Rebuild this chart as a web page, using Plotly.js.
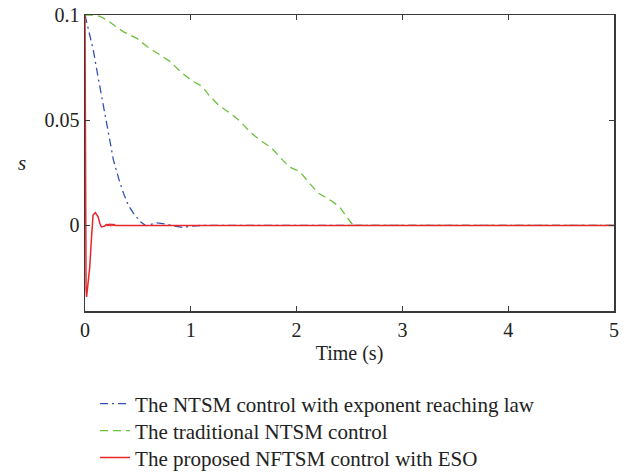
<!DOCTYPE html>
<html>
<head>
<meta charset="utf-8">
<script src="https://cdn.plot.ly/plotly-3.0.1.min.js"></script>
<style>html,body{margin:0;padding:0;background:#fff;}#chart{width:632px;height:472px;}</style>
</head>
<body>
<div id="chart"></div>
<script>
// Series names
const seriesNames = [
  "The NTSM control with exponent reaching law",
  "The traditional NTSM control",
  "The proposed NFTSM control with ESO"
];

// NTSM control with exponent reaching law (blue dash-dot)
const ntsmExpT = [0, 0.04, 0.079, 0.12, 0.174, 0.22, 0.269, 0.32, 0.364, 0.41, 0.459, 0.522, 0.57, 0.6, 0.63, 0.68, 0.73, 0.77, 0.85, 0.93, 1.0, 1.1, 5];
const ntsmExpS = [0.1, 0.0915, 0.0832, 0.0715, 0.0563, 0.043, 0.031, 0.022, 0.0152, 0.0095, 0.0057, 0.0018, 0.0, -0.0002, 0.0006, 0.0012, 0.0008, 0.0006, -0.0004, -0.001, -0.0004, 0, 0];

// Traditional NTSM control (green dashed)
const ntsmTradT = [0, 0.08, 0.142, 0.206, 0.364, 0.49, 0.586, 0.712, 0.807, 0.902, 0.997, 1.108, 1.171, 1.266, 1.377, 1.472, 1.551, 1.646, 1.76, 1.839, 1.93, 2.03, 2.12, 2.2, 2.31, 2.405, 2.5, 2.535, 5];
const ntsmTradS = [0.1, 0.1, 0.0994, 0.0976, 0.092, 0.0889, 0.085, 0.081, 0.0778, 0.0731, 0.0692, 0.066, 0.0619, 0.057, 0.0532, 0.0492, 0.0448, 0.0408, 0.037, 0.0326, 0.0278, 0.0255, 0.0202, 0.0155, 0.0123, 0.0089, 0.0022, 0, 0];

// Proposed NFTSM control with ESO (red solid)
const nftsmT = [0, 0.004, 0.01, 0.015, 0.025, 0.035, 0.045, 0.06, 0.076, 0.098, 0.124, 0.14, 0.155, 0.17, 0.187, 0.2, 0.21, 0.218, 0.225, 0.235, 0.245, 0.255, 0.265, 0.275, 0.285, 0.3, 5];
const nftsmS = [0.1, 0.0, -0.03, -0.034, -0.03, -0.025, -0.0197, -0.007, 0.0049, 0.006, 0.0041, 0.001, -0.0007, -0.0006, -0.0003, 0.0004, 0, 0.0006, -0.0002, 0.0005, -0.0001, 0.0005, 0, 0.0004, 0, 0, 0];

// Axis ticks
const xTicks = [0, 1, 2, 3, 4, 5];
const xTickText = ["0", "1", "2", "3", "4", "5"];
const yTicks = [0, 0.05, 0.1];
const yTickText = ["0", "0.05", "0.1"];

const FONT = "Liberation Serif, Times New Roman, serif";

const traces = [
  {x: ntsmExpT, y: ntsmExpS, name: seriesNames[0], type: "scatter", mode: "lines", legend: "legend",
   line: {color: "#3352b0", width: 1.3, dash: "8px,4px,2px,4px"}},
  {x: ntsmTradT, y: ntsmTradS, name: seriesNames[1], type: "scatter", mode: "lines", legend: "legend2",
   line: {color: "#6cc03c", width: 1.3, dash: "8px,5px"}},
  {x: nftsmT, y: nftsmS, name: seriesNames[2], type: "scatter", mode: "lines", legend: "legend3",
   line: {color: "#e8262b", width: 1.5}}
];

const axisCommon = {
  showgrid: false, zeroline: false, showline: true, linecolor: "#3a3a3a", linewidth: 1.5,
  mirror: "ticks", ticks: "inside", ticklen: 5, tickwidth: 1.3, tickcolor: "#3a3a3a",
  tickfont: {family: FONT, size: 20, color: "#222"}
};

function legendAt(yPos) {
  return {x: 0.019, xanchor: "left", y: yPos, yanchor: "middle",
          font: {family: FONT, size: 21, color: "#222"}, bgcolor: "rgba(0,0,0,0)"};
}

const layout = {
  width: 632, height: 472,
  margin: {l: 85, r: 18, t: 15, b: 161, autoexpand: false},
  paper_bgcolor: "#fff", plot_bgcolor: "#fff",
  font: {family: FONT, size: 20, color: "#222"},
  showlegend: true,
  legend: legendAt(-0.314),
  legend2: legendAt(-0.405),
  legend3: legendAt(-0.496),
  xaxis: Object.assign({}, axisCommon, {
    range: [0, 5], tickvals: xTicks, ticktext: xTickText,
    title: {text: "Time (s)", font: {family: FONT, size: 20, color: "#222"}, standoff: 6}
  }),
  yaxis: Object.assign({}, axisCommon, {
    range: [-0.0407, 0.1], tickvals: yTicks, ticktext: yTickText
  }),
  annotations: [{
    text: "<i>s</i>", xref: "paper", yref: "y", x: -0.13, y: 0.0296,
    showarrow: false, font: {family: FONT, size: 21, color: "#222"}
  }]
};

Plotly.newPlot("chart", traces, layout, {displayModeBar: false, staticPlot: true});
</script>
</body>
</html>
